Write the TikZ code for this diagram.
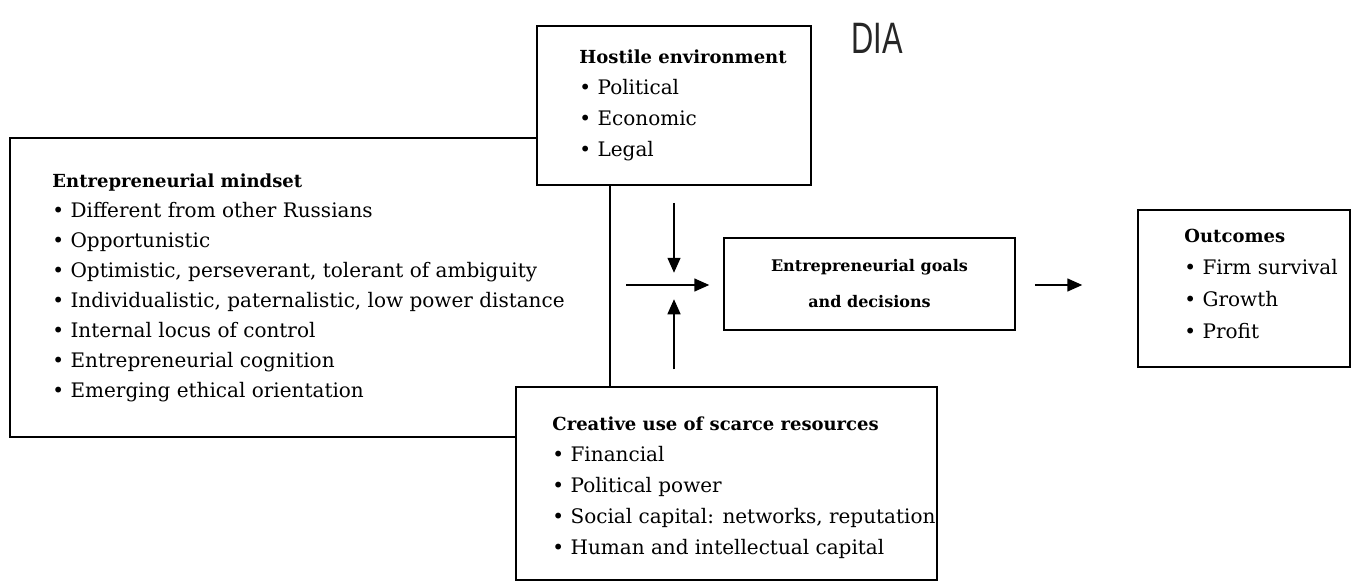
\documentclass[tikz,border=0pt]{standalone}
\usepackage{fontspec}
\setmainfont{DejaVu Serif}
\newfontfamily\handfont{Liberation Sans}
\usetikzlibrary{positioning,arrows.meta}

\newcommand{\boxtitle}[1]{{\fontsize{18}{31}\selectfont\textbf{#1}}}

\begin{document}
\begin{tikzpicture}[x=1pt, y=-1pt, font=\fontsize{20}{31}\selectfont,
	box/.style={draw, line width=1.5pt, fill=white, inner sep=0pt},
	list/.style={inner sep=0pt, align=left},
	flow/.style={line width=1.5pt, -{Triangle[length=15pt, width=13pt]}}]
	\useasboundingbox (0,0) rectangle (1362,583);
	\path (310,287.5) node[box, minimum width=600pt, minimum height=299pt] (mindset){}
	(674,105.5) node[box, minimum width=274pt, minimum height=159pt] (hostile){}
	(726.5,483.5) node[box, minimum width=421pt, minimum height=193pt] (creative){}
	(869.5,284) node[box, minimum width=291pt, minimum height=92pt, align=center, font=\fontsize{16}{36}\selectfont\bfseries] (goals){Entrepreneurial goals\\and decisions}
	(1244,288.5) node[box, minimum width=212pt, minimum height=157pt] (outcomes){}
	(877,38) node[font=\handfont\fontsize{44}{44}\selectfont, text=black!85] (dia){\scalebox{0.7}[1]{DIA}};
	
	\node[list, right=43pt of mindset.west, font=\fontsize{20}{30}\selectfont] (mindsetlist){\boxtitle{Entrepreneurial mindset}\\
		\textbullet\ Different from other Russians\\
		\textbullet\ Opportunistic\\
		\textbullet\ Optimistic, perseverant, tolerant of ambiguity\\
		\textbullet\ Individualistic, paternalistic, low power distance\\
		\textbullet\ Internal locus of control\\
		\textbullet\ Entrepreneurial cognition\\
		\textbullet\ Emerging ethical orientation};
	\node[list, right=43pt of hostile.west] (hostilelist){\boxtitle{Hostile environment}\\
		\textbullet\ Political\\
		\textbullet\ Economic\\
		\textbullet\ Legal};
	\node[list, right=37pt of creative.west, yshift=-4pt] (creativelist){\boxtitle{Creative use of scarce resources}\\
		\textbullet\ Financial\\
		\textbullet\ Political power\\
		\textbullet\ Social capital: networks, reputation\\
		\textbullet\ Human and intellectual capital};
	\node[list, right=47pt of outcomes.west, yshift=5pt, font=\fontsize{20}{32}\selectfont] (outcomeslist){\boxtitle{Outcomes}\\
		\textbullet\ Firm survival\\
		\textbullet\ Growth\\
		\textbullet\ Profit};
	
	\coordinate (envstart) at ([yshift=-17pt]hostile.south);
	\coordinate (envend) at ([yshift=-87pt]hostile.south);
	\coordinate (resstart) at ([yshift=17pt]creative.north -| hostile.south);
	\coordinate (resend) at ([yshift=87pt]creative.north -| hostile.south);
	\coordinate (mindstart) at ([xshift=-97pt, yshift=-1pt]goals.west);
	\coordinate (mindend) at ([xshift=-14pt, yshift=-1pt]goals.west);
	\coordinate (outstart) at ([xshift=19pt, yshift=-1pt]goals.east);
	\coordinate (outend) at ([xshift=-55pt, yshift=-1pt]outcomes.west |- goals.east);
	
	\draw[flow] (envstart) -- (envend);
	\draw[flow] (resstart) -- (resend);
	\draw[flow] (mindstart) -- (mindend);
	\draw[flow] (outstart) -- (outend);
\end{tikzpicture}
\end{document}
